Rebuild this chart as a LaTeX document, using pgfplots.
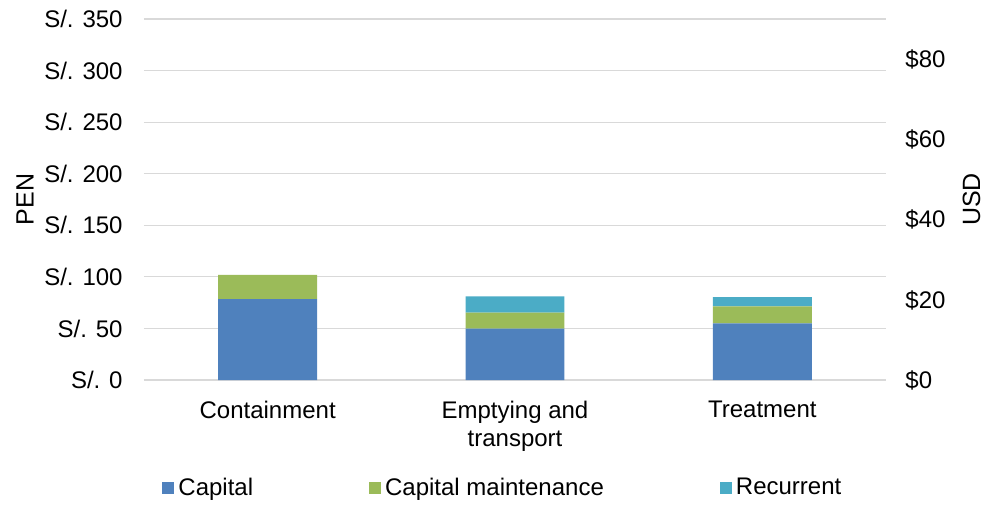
\documentclass[border=0pt]{standalone}
\usepackage{fontspec}
\setmainfont{Liberation Sans}
\usepackage{pgfplots}
\pgfplotsset{compat=1.18}
\definecolor{capital}{HTML}{4F81BD}
\definecolor{capmaint}{HTML}{9BBB59}
\definecolor{recurrent}{HTML}{4BACC6}
\definecolor{gridgray}{HTML}{D9D9D9}
\pgfplotsset{mylegend/.style={legend image code/.code={\fill[##1] (0pt,-3pt) rectangle (6pt,3pt); \path (8pt,0pt);}}}
\begin{document}
\begin{tikzpicture}
\begin{axis}[name=main, at={(0,0)}, anchor=south west, scale only axis,
  width=371pt, height=180.5pt,
  ybar stacked, bar width=0.4,
  xmin=-0.5, xmax=2.5, ymin=0, ymax=350,
  xtick={0,1,2}, xticklabels={Containment,Emptying and\\transport,Treatment},
  xticklabel style={align=center, anchor=north, inner sep=0pt, yshift=-10.5pt},
  ytick={0,50,...,350},
  yticklabels={S/. 0,S/. 50,S/. 100,S/. 150,S/. 200,S/. 250,S/. 300,S/. 350},
  yticklabel style={anchor=east, inner sep=0pt, xshift=-10.5pt},
  every tick label/.append style={font=\fontsize{12}{14}\selectfont},
  major tick length=0pt,
  ymajorgrids, grid style={draw=gridgray, line width=0.6pt},
  axis x line*=bottom, axis y line*=left,
  x axis line style={draw=gridgray, line width=0.8pt, -},
  y axis line style={draw=none},
  ylabel={PEN},
  every axis y label/.style={at={(rel axis cs:-0.1604,0.5)}, rotate=90, anchor=center, font=\fontsize{12.5}{15}\selectfont},
  legend columns=3,
  legend style={at={(rel axis cs:0.0162,-0.299)}, anchor=west, draw=none, fill=none,
    font=\fontsize{12}{14}\selectfont, nodes={inner sep=0pt},
    /tikz/every even column/.append style={column sep=58pt}},
]
\addplot[fill=capital, draw=none, mylegend] coordinates {(0,78.3) (1,49.8) (2,55.0)};
\addlegendentry{Capital}
\addplot[fill=capmaint, draw=none, mylegend] coordinates {(0,23.6) (1,15.6) (2,16.5)};
\addlegendentry{Capital maintenance}
\addplot[fill=recurrent, draw=none, mylegend] coordinates {(0,0) (1,15.8) (2,8.8)};
\addlegendentry{Recurrent}
\end{axis}
\begin{axis}[at={(0,0)}, anchor=south west, scale only axis,
  width=371pt, height=180.5pt,
  xmin=-0.5, xmax=2.5, ymin=0, ymax=90.2,
  hide x axis, axis y line*=right, y axis line style={draw=none},
  ytick={0,20,...,80}, yticklabels={\$0,\$20,\$40,\$60,\$80},
  yticklabel style={anchor=west, inner sep=0pt, xshift=9.5pt, font=\fontsize{12}{14}\selectfont},
  major tick length=0pt,
  ylabel={USD},
  every axis y label/.style={at={(rel axis cs:1.1152,0.5)}, rotate=90, anchor=center, font=\fontsize{12.5}{15}\selectfont},
]
\end{axis}
\pgfresetboundingbox
\path (-72pt,-62pt) rectangle (422.5pt,190pt);
\end{tikzpicture}
\end{document}
